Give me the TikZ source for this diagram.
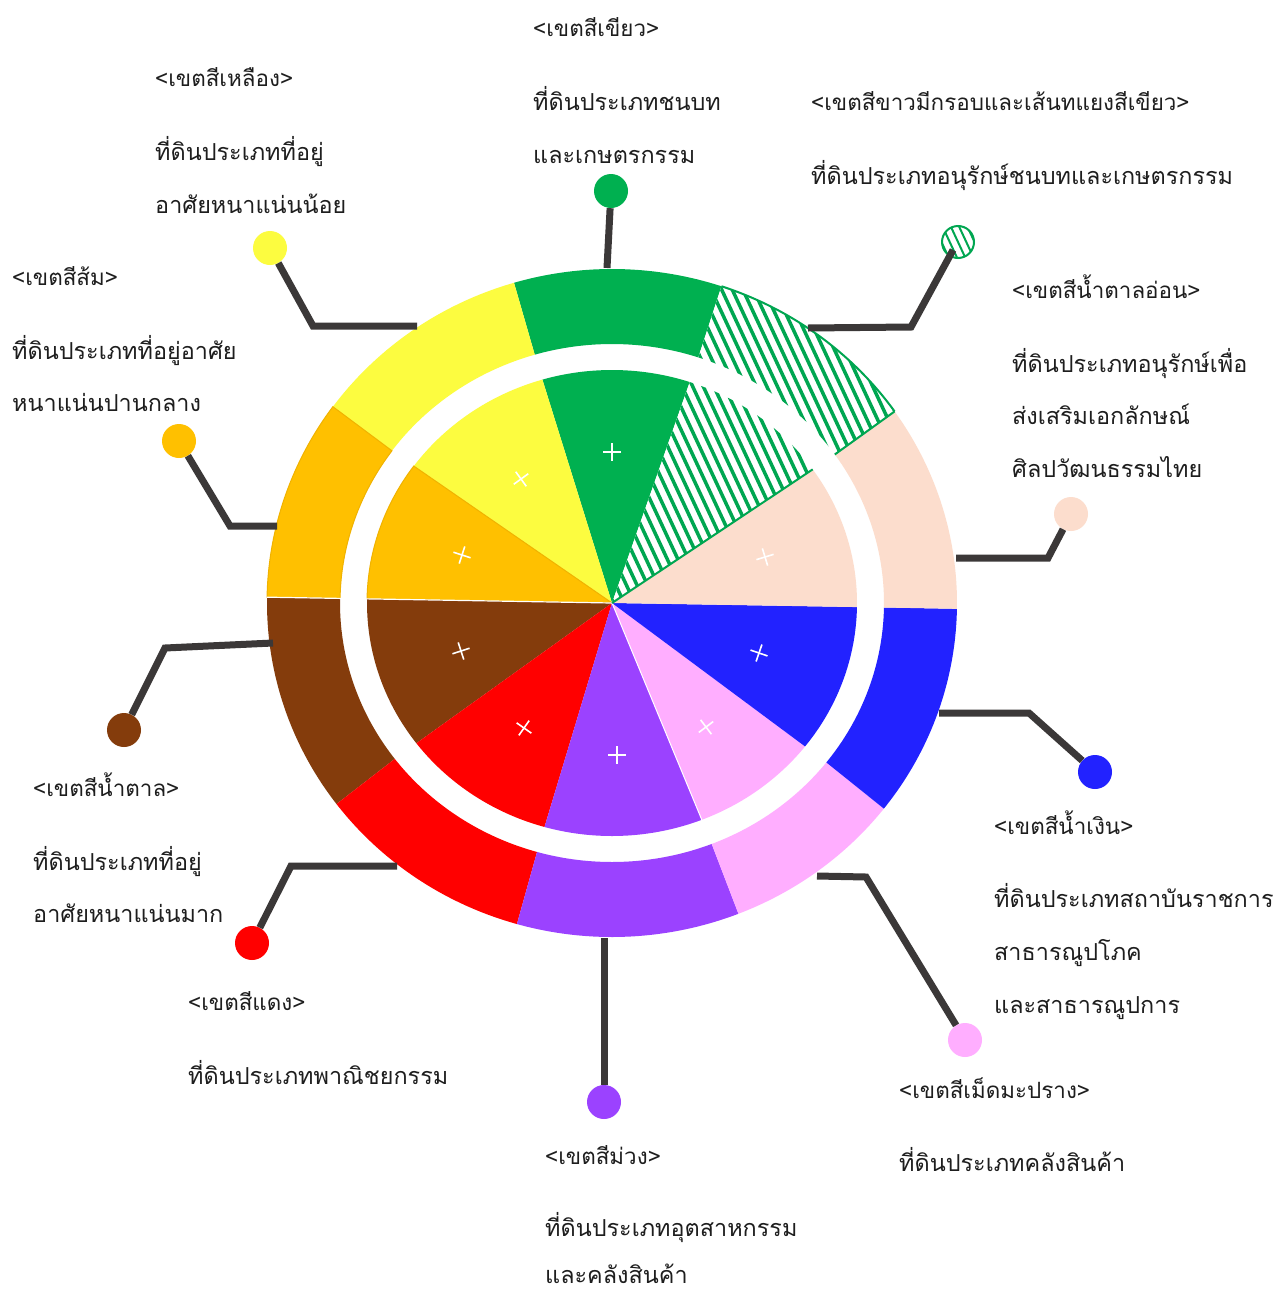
\documentclass[tikz,border=0pt]{standalone}
\usepackage{fontspec}
\newfontfamily\thaifont[Script=Thai]{Loma}
\definecolor{cgreen}{HTML}{00B050}
\definecolor{cyellow}{HTML}{FCFC40}
\definecolor{corange}{HTML}{FFC000}
\definecolor{cobord}{HTML}{F0B200}
\definecolor{cbrown}{HTML}{843C0C}
\definecolor{cred}{HTML}{FF0000}
\definecolor{cpurple}{HTML}{9B42FF}
\definecolor{cpink}{HTML}{FFAEFF}
\definecolor{cblue}{HTML}{2222FF}
\definecolor{cpeach}{HTML}{FCDDCD}
\definecolor{chatch}{HTML}{00A651}
\definecolor{cline}{HTML}{3B3838}
\definecolor{ctext}{HTML}{1E1E1E}
% ring segment between two angles (degrees, counter-clockwise from east)
\newcommand\annpath[2]{plot[domain=#1:#2, samples=50, variable=\t] ({612+345*cos(\t)},{603-334*sin(\t)}) -- plot[domain=#2:#1, samples=50, variable=\t] ({612+272*cos(\t)},{603-259*sin(\t)}) -- cycle}
% pie slice between two angles
\newcommand\piepath[2]{(612,603) -- plot[domain=#1:#2, samples=50, variable=\t] ({612+245*cos(\t)},{603-233*sin(\t)}) -- cycle}
\newcommand\annseg[3]{\fill[#1] \annpath{#2}{#3};}
\newcommand\pieseg[3]{\fill[#1] \piepath{#2}{#3};}
% white cross marker, arms aligned with the radius
\newcommand\xmark[3]{\draw[crossline] (#1,#2) ++(#3:9) -- ++(#3+180:18); \draw[crossline] (#1,#2) ++(#3+90:9) -- ++(#3+270:18);}
\tikzset{
  conn/.style={draw=cline, line width=7, line join=miter},
  dotnode/.style={circle, minimum size=34, inner sep=0},
  hatchline/.style={draw=chatch, line width=3.5},
  crossline/.style={draw=white, line width=1.6},
  lbl/.style={anchor=base west, inner sep=0, text depth=0pt, text=ctext, font=\thaifont\fontsize{23.4}{28}\selectfont},
  hdr/.style={lbl, font=\thaifont\fontsize{22.4}{28}\selectfont},
}
\begin{document}
\begin{tikzpicture}[x=1pt, y=-1pt]
\useasboundingbox (0,0) rectangle (1282,1293);
\fill[white] (0,0) rectangle (1282,1293);

% outer ring
\annseg{cgreen}{71.5}{106.5}
\annseg{cyellow}{106.5}{144}
\fill[corange, draw=cobord, line width=1] \annpath{144}{179};
\annseg{cbrown}{179}{217}
\annseg{cred}{217}{254}
\annseg{cpurple}{254}{291.5}
\annseg{cpink}{291.5}{322}
\annseg{cblue}{322}{359}
\annseg{cpeach}{-1}{35}
\annseg{white}{35}{71.5}

% inner pie
\pieseg{cgreen}{71.5}{106.5}
\pieseg{cyellow}{106.5}{144}
\fill[corange, draw=cobord, line width=1] \piepath{144}{179};
\pieseg{cbrown}{179}{217}
\pieseg{cred}{217}{254}
\pieseg{cpurple}{254}{291.5}
\pieseg{cpink}{291.5}{322}
\pieseg{cblue}{322}{359}
\pieseg{cpeach}{-1}{35}
\pieseg{white}{35}{71.5}

% thin separators
\draw[white, line width=1.2] (612,603) -- ({612+345*cos(179)},{603-334*sin(179)});
\draw[white, line width=1] (612,603) -- ({612+245*cos(291.5)},{603-233*sin(291.5)});

% hatching of the conservation zone
\begin{scope}
  \clip \annpath{35}{71.5} \piepath{35}{71.5};
  \begin{scope}[shift={(760,440)}, rotate=-65]
    \foreach \i in {-45,...,45} \draw[hatchline] (-500,\i*9.6) -- (500,\i*9.6);
  \end{scope}
\end{scope}
\draw[chatch, line width=2] plot[domain=35:71.5, samples=50, variable=\t] ({612+345*cos(\t)},{603-334*sin(\t)});
\draw[chatch, line width=2] ({612+272*cos(35)},{603-259*sin(35)}) -- ({612+345*cos(35)},{603-334*sin(35)});
\draw[chatch, line width=2] (612,603) -- ({612+245*cos(35)},{603-233*sin(35)});

% markers
\xmark{612}{452}{-90}
\xmark{521}{479}{-126}
\xmark{462}{555}{-162}
\xmark{461}{651}{-198}
\xmark{524}{728}{-235}
\xmark{617}{755}{-270}
\xmark{706}{727}{-307}
\xmark{759}{653}{-341}
\xmark{765}{557}{-17}

% legend dots
\node[dotnode, fill=cgreen] (dgreen) at (611,191) {};
\node[dotnode, fill=cyellow] (dyellow) at (270,248) {};
\node[dotnode, fill=corange] (dorange) at (179,441) {};
\node[dotnode, fill=cbrown] (dbrown) at (124,730) {};
\node[dotnode, fill=cred] (dred) at (252,943) {};
\node[dotnode, fill=cpurple] (dpurple) at (604,1102) {};
\node[dotnode, fill=cpink] (dpink) at (965,1040) {};
\node[dotnode, fill=cblue] (dblue) at (1095,772) {};
\node[dotnode, fill=cpeach] (dpeach) at (1071,514) {};
\node[dotnode, minimum size=33, fill=white] (dhatch) at (958,242) {};
\begin{scope}
  \clip (dhatch.center) circle[radius=16];
  \begin{scope}[shift={(dhatch.center)}, rotate=-65]
    \foreach \i in {-3,...,3} \draw[chatch, line width=2] (-30,\i*7.5) -- (30,\i*7.5);
  \end{scope}
\end{scope}
\draw[chatch, line width=2] (dhatch.center) circle[radius=16];

% connector anchor points on the ring
\coordinate (sgreen) at (607,268);
\coordinate (syellow) at (417,326);
\coordinate (kyellow) at (313,326);
\coordinate (sorange) at (277,526);
\coordinate (korange) at (230,526);
\coordinate (sbrown) at (273,643);
\coordinate (kbrown) at (165,648);
\coordinate (sred) at (397,866);
\coordinate (kred) at (291,866);
\coordinate (spurple) at (604,938);
\coordinate (kpurple) at (604,1000);
\coordinate (spink) at (817,876);
\coordinate (kpink) at (866,877);
\coordinate (sblue) at (939,713);
\coordinate (kblue) at (1029,713);
\coordinate (speach) at (956,558);
\coordinate (kpeach) at (1048,558);
\coordinate (shatch) at (808,328);
\coordinate (khatch) at (911,327);
\coordinate (ehatch) at (953,250);

\draw[conn] (sgreen) -- (dgreen);
\draw[conn] (syellow) -- (kyellow) -- (dyellow);
\draw[conn] (sorange) -- (korange) -- (dorange);
\draw[conn] (sbrown) -- (kbrown) -- (dbrown);
\draw[conn] (sred) -- (kred) -- (dred);
\draw[conn] (spurple) -- (kpurple) -- (dpurple);
\draw[conn] (spink) -- (kpink) -- (dpink);
\draw[conn] (sblue) -- (kblue) -- (dblue);
\draw[conn] (speach) -- (kpeach) -- (dpeach);
\draw[conn] (shatch) -- (khatch) -- (ehatch);

% labels
\node[hdr] (tg1) at (533,36) {<เขตสีเขียว>};
\node[lbl] (tg2) at (533,110) {ที่ดินประเภทชนบท};
\node[lbl] (tg3) at (533,163) {และเกษตรกรรม};

\node[hdr] (ty1) at (155,86) {<เขตสีเหลือง>};
\node[lbl] (ty2) at (155,160) {ที่ดินประเภทที่อยู่};
\node[lbl] (ty3) at (155,213) {อาศัยหนาแน่นน้อย};

\node[hdr] (to1) at (12,285) {<เขตสีส้ม>};
\node[lbl] (to2) at (12,359) {ที่ดินประเภทที่อยู่อาศัย};
\node[lbl] (to3) at (12,411) {หนาแน่นปานกลาง};

\node[hdr] (th1) at (811,110) {<เขตสีขาวมีกรอบและเส้นทแยงสีเขียว>};
\node[lbl] (th2) at (811,184) {ที่ดินประเภทอนุรักษ์ชนบทและเกษตรกรรม};

\node[hdr] (tp1) at (1012,298) {<เขตสีน้ำตาลอ่อน>};
\node[lbl] (tp2) at (1012,372) {ที่ดินประเภทอนุรักษ์เพื่อ};
\node[lbl] (tp3) at (1012,424) {ส่งเสริมเอกลักษณ์};
\node[lbl] (tp4) at (1012,477) {ศิลปวัฒนธรรมไทย};

\node[hdr] (tb1) at (33,796) {<เขตสีน้ำตาล>};
\node[lbl] (tb2) at (33,870) {ที่ดินประเภทที่อยู่};
\node[lbl] (tb3) at (33,922) {อาศัยหนาแน่นมาก};

\node[hdr] (tr1) at (188,1010) {<เขตสีแดง>};
\node[lbl] (tr2) at (188,1084) {ที่ดินประเภทพาณิชยกรรม};

\node[hdr] (tu1) at (545,1164) {<เขตสีม่วง>};
\node[lbl] (tu2) at (545,1236) {ที่ดินประเภทอุตสาหกรรม};
\node[lbl] (tu3) at (545,1283) {และคลังสินค้า};

\node[hdr] (tk1) at (899,1098) {<เขตสีเม็ดมะปราง>};
\node[lbl] (tk2) at (899,1171) {ที่ดินประเภทคลังสินค้า};

\node[hdr] (tn1) at (994,834) {<เขตสีน้ำเงิน>};
\node[lbl] (tn2) at (994,907) {ที่ดินประเภทสถาบันราชการ};
\node[lbl] (tn3) at (994,960) {สาธารณูปโภค};
\node[lbl] (tn4) at (994,1013) {และสาธารณูปการ};
\end{tikzpicture}
\end{document}
